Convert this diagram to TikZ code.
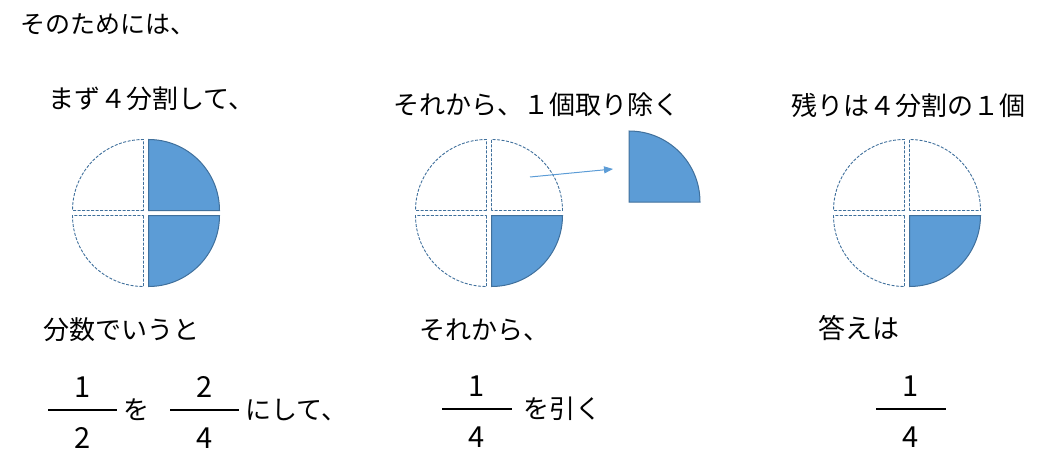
\documentclass[tikz,border=0pt]{standalone}
\usepackage{fontspec}
\setmainfont{Noto Sans CJK JP}
\newfontfamily\widejp[RawFeature=+fwid]{Noto Sans CJK JP}
\usetikzlibrary{arrows.meta}
\usetikzlibrary{positioning}
\tikzset{piece/.style = {fill=mblue, draw=mline, line width=1pt}}
\tikzset{hole/.style = {draw=mline, line width=0.9pt, dash pattern=on 3pt off 1.5pt}}
\tikzset{txt/.style = {anchor=west, inner sep=0, font=\widejp\fontsize{26}{30}\selectfont}}
\tikzset{num/.style = {inner sep=0, font=\fontsize{29}{32}\selectfont}}
\tikzset{bar/.style = {fill, inner sep=0, minimum width=69pt, minimum height=2pt}}
\definecolor{mblue}{rgb}{0.36, 0.61, 0.84}
\definecolor{mline}{rgb}{0.25, 0.44, 0.61}
\begin{document}
\begin{tikzpicture}[x=1pt, y=-1pt]
      \useasboundingbox (0, 0) rectangle (1059, 473);

      \node [txt, font=\fontsize{25}{28}\selectfont] (intro) at (20, 24) {そのためには、};

      \node [txt] (split) at (48, 99) {まず4分割して、};
      \node [txt] (take) at (393, 105) {それから、1個取り除く};
      \node [txt] (rest) at (791, 106) {残りは4分割の1個};

      \coordinate (c1) at (146, 213);
      \coordinate (c2) at (489, 213);
      \coordinate (c3) at (907, 213);
      \coordinate (cut) at (629, 202);

      \draw [hole, shift={(c1)}] (-2.5, -2.5) -- ++(180:71) arc [start angle=180, end angle=270, radius=71] -- cycle;
      \draw [piece, shift={(c1)}] (2.5, -2.5) -- ++(270:71) arc [start angle=270, end angle=360, radius=71] -- cycle;
      \draw [hole, shift={(c1)}] (-2.5, 2.5) -- ++(90:71) arc [start angle=90, end angle=180, radius=71] -- cycle;
      \draw [piece, shift={(c1)}] (2.5, 2.5) -- ++(0:71) arc [start angle=0, end angle=90, radius=71] -- cycle;

      \draw [hole, shift={(c2)}] (-2.5, -2.5) -- ++(180:71) arc [start angle=180, end angle=270, radius=71] -- cycle;
      \draw [hole, shift={(c2)}] (2.5, -2.5) -- ++(270:71) arc [start angle=270, end angle=360, radius=71] -- cycle;
      \draw [hole, shift={(c2)}] (-2.5, 2.5) -- ++(90:71) arc [start angle=90, end angle=180, radius=71] -- cycle;
      \draw [piece, shift={(c2)}] (2.5, 2.5) -- ++(0:71) arc [start angle=0, end angle=90, radius=71] -- cycle;

      \draw [piece] (cut) -- ++(270:71) arc [start angle=270, end angle=360, radius=71] -- cycle;

      \coordinate (pull) at (530, 177);
      \coordinate (drop) at (613, 169);
      \draw [-{Triangle[length=9pt, width=7pt]}, mblue, line width=1pt] (pull) -- (drop);

      \draw [hole, shift={(c3)}] (-2.5, -2.5) -- ++(180:71) arc [start angle=180, end angle=270, radius=71] -- cycle;
      \draw [hole, shift={(c3)}] (2.5, -2.5) -- ++(270:71) arc [start angle=270, end angle=360, radius=71] -- cycle;
      \draw [hole, shift={(c3)}] (-2.5, 2.5) -- ++(90:71) arc [start angle=90, end angle=180, radius=71] -- cycle;
      \draw [piece, shift={(c3)}] (2.5, 2.5) -- ++(0:71) arc [start angle=0, end angle=90, radius=71] -- cycle;

      \node [txt] (frac) at (43, 330) {分数でいうと};
      \node [txt] (then) at (419, 330) {それから、};
      \node [txt, font=\fontsize{27}{30}\selectfont] (answer) at (818, 328) {答えは};

      \node [bar] (barA) at (82.5, 410) {};
      \node [num, above=11pt of barA] (topA) {1};
      \node [num, below=16pt of barA] (botA) {2};
      \node [txt, right=6pt of barA] (wo) {を};

      \node [bar] (barB) at (204.5, 410) {};
      \node [num, above=11pt of barB] (topB) {2};
      \node [num, below=16pt of barB] (botB) {4};
      \node [txt, right=6pt of barB] (make) {にして、};

      \node [bar, minimum width=70pt] (barC) at (477, 409) {};
      \node [num, above=11pt of barC] (topC) {1};
      \node [num, below=16pt of barC] (botC) {4};
      \node [txt, right=11pt of barC] (minus) {を引く};

      \node [bar, minimum width=70pt] (barD) at (911, 409) {};
      \node [num, above=11pt of barD] (topD) {1};
      \node [num, below=16pt of barD] (botD) {4};
    \end{tikzpicture}
\end{document}
